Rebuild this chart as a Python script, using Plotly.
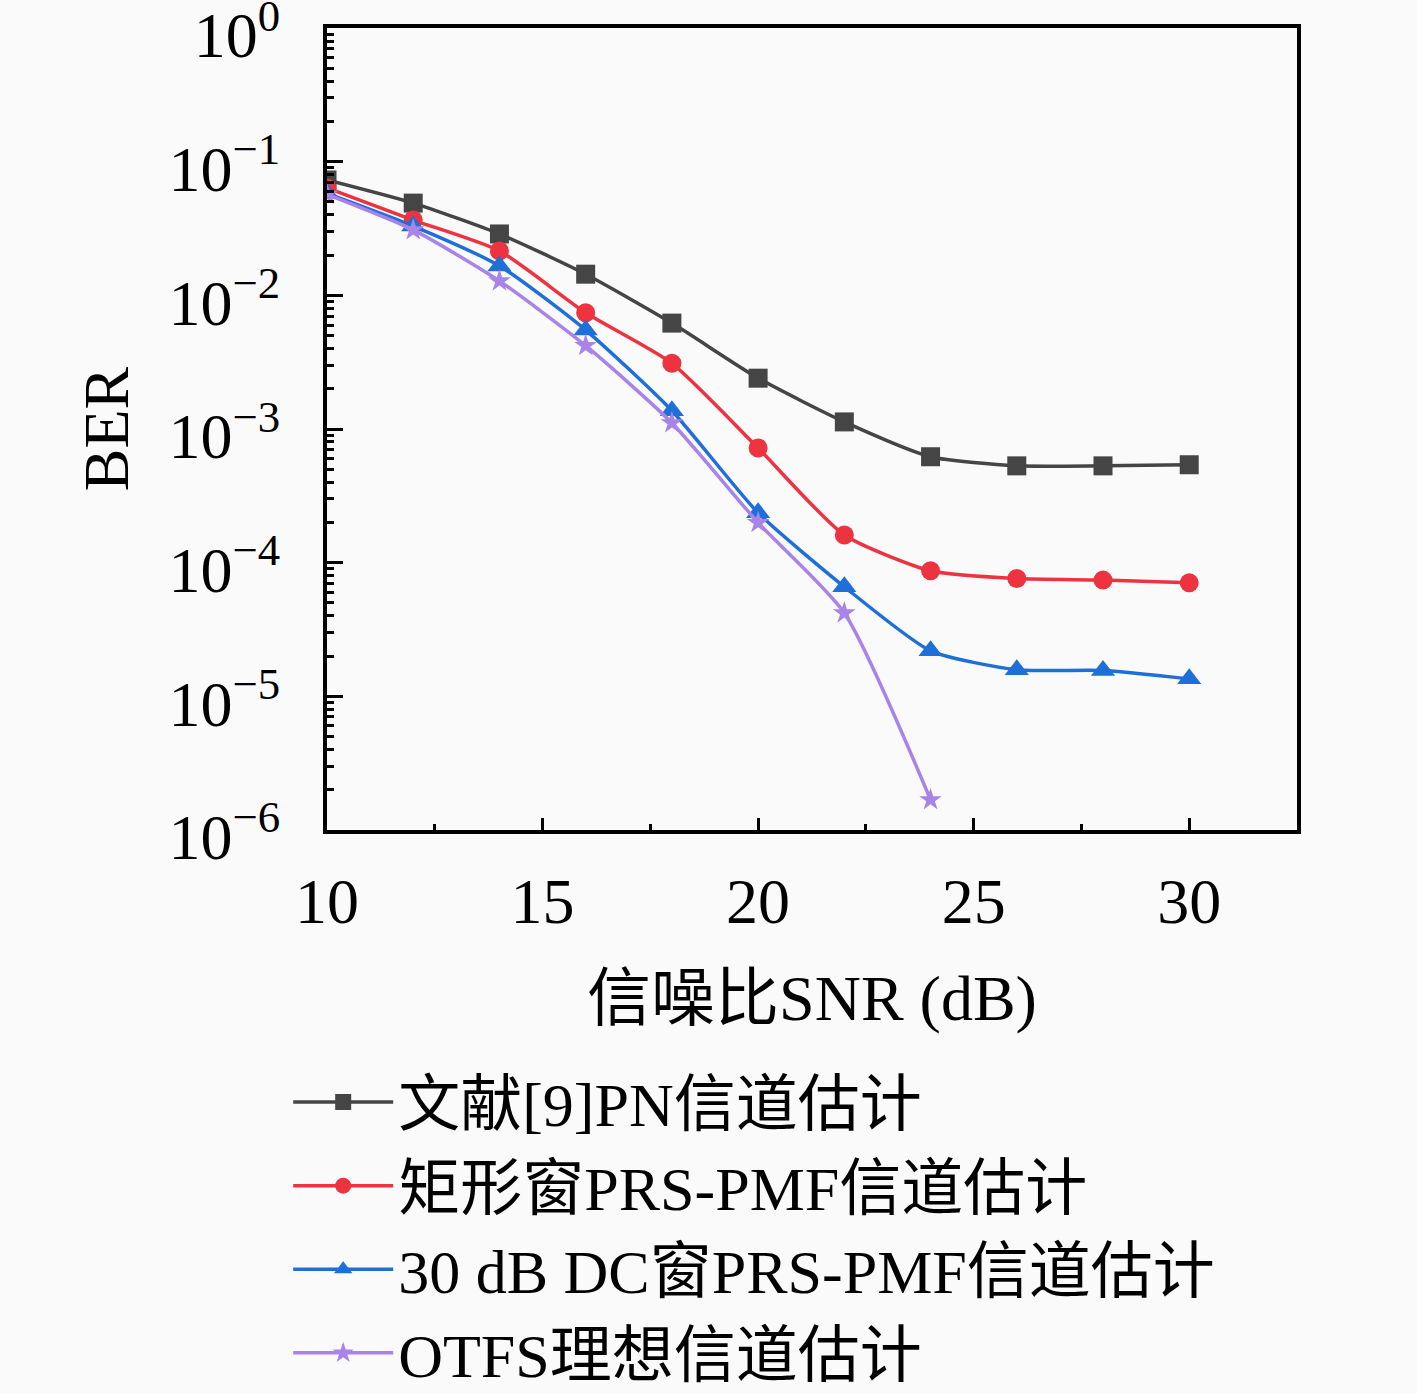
import plotly.graph_objects as go

snr = [10, 12, 14, 16, 18, 20, 22, 24, 26, 28, 30]
snr_otfs = [10, 12, 14, 16, 18, 20, 22, 24]

ber_pn = [0.073, 0.049, 0.0288, 0.0144, 0.0062, 0.0024, 0.00113, 0.00062, 0.00053, 0.00053, 0.00054]
ber_rect = [0.0636, 0.0366, 0.0215, 0.0074, 0.0031, 0.00072, 0.000161, 8.7e-5, 7.6e-5, 7.4e-5, 7.06e-5]
ber_dc = [0.058, 0.033, 0.0166, 0.0055, 0.00137, 0.000236, 6.6e-5, 2.19e-5, 1.58e-5, 1.56e-5, 1.35e-5]
ber_otfs = [0.057, 0.0309, 0.0128, 0.0042, 0.00111, 0.000199, 4.2e-5, 1.68e-6]

names = ["文献[9]PN信道估计", "矩形窗PRS-PMF信道估计", "30 dB DC窗PRS-PMF信道估计", "OTFS理想信道估计"]
colors = ["#454545", "#ee3340", "#1f6fd8", "#a884e8"]
symbols = ["square", "circle", "triangle-up", "star"]
msizes = [19, 19, 21, 17]

ytickvals = [1, 1e-1, 1e-2, 1e-3, 1e-4, 1e-5, 1e-6]
yticktext = ["10<sup>0</sup>", "10<sup>−1</sup>", "10<sup>−2</sup>", "10<sup>−3</sup>",
             "10<sup>−4</sup>", "10<sup>−5</sup>", "10<sup>−6</sup>"]
xtickvals = [10, 15, 20, 25, 30]

FONT = "Liberation Serif, DejaVu Serif, Noto Sans CJK SC, serif"

fig = go.Figure()
series = [(snr, ber_pn), (snr, ber_rect), (snr, ber_dc), (snr_otfs, ber_otfs)]
for (xs, ys), n, c, s, ms in zip(series, names, colors, symbols, msizes):
    fig.add_trace(go.Scatter(
        x=xs, y=ys, name=n, mode="lines+markers",
        line=dict(color=c, width=3.5, shape="spline", smoothing=0.6),
        marker=dict(symbol=s, size=ms, color=c, line=dict(width=0)),
    ))

fig.update_layout(
    width=1417, height=1394,
    margin=dict(l=327, r=120, t=28, b=564),
    paper_bgcolor="#fafafa", plot_bgcolor="#fafafa",
    font=dict(family=FONT, size=60, color="black"),
    showlegend=True,
    legend=dict(x=-0.04, y=0.243, xref="paper", yref="container",
                xanchor="left", yanchor="top",
                bgcolor="rgba(0,0,0,0)", font=dict(size=62, family=FONT),
                itemwidth=100, tracegroupgap=0),
)
fig.update_xaxes(
    range=[10, 32.5], tickvals=xtickvals, ticks="inside", ticklen=12, tickwidth=3,
    tickcolor="black", showline=True, linewidth=4, linecolor="black", mirror=True,
    showgrid=False, zeroline=False, ticklabelstandoff=12, automargin=False,
    tickfont=dict(size=64, family=FONT),
    minor=dict(ticks="inside", ticklen=6, tickwidth=3, dtick=2.5, tickcolor="black", showgrid=False),
    title=dict(text="信噪比SNR (dB)", font=dict(size=64, family=FONT), standoff=40),
)
fig.update_yaxes(
    type="log", range=[-6.0005, 0.0005], tickvals=ytickvals, ticktext=yticktext,
    ticks="inside", ticklen=16, tickwidth=3, tickcolor="black",
    showline=True, linewidth=4, linecolor="black", mirror=True,
    showgrid=False, zeroline=False, ticklabelstandoff=30, ticklabeloverflow="allow",
    ticklabelshift=7, automargin=False,
    tickfont=dict(size=64, family=FONT),
    minor=dict(ticks="inside", ticklen=7, tickwidth=3, dtick="D1", tickcolor="black", showgrid=False),
    title=dict(text="BER", font=dict(size=64, family=FONT), standoff=20),
)

fig.write_html("out.html", config={"displayModeBar": False},
               post_script="document.body.style.margin='0';document.body.style.background='#fafafa';")
